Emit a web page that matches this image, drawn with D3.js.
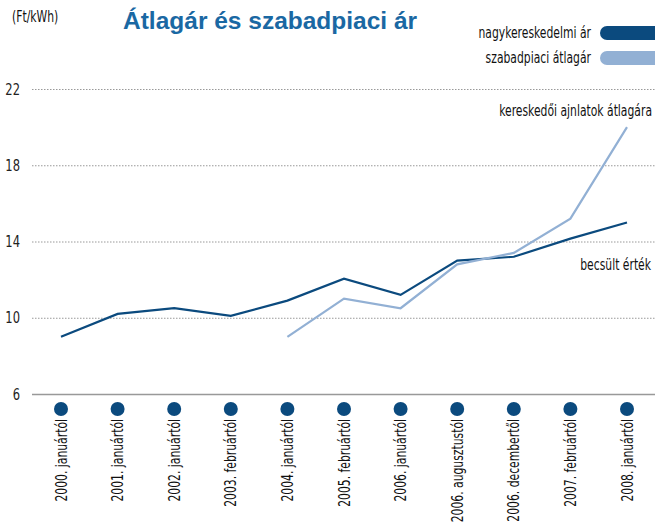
<!DOCTYPE html>
<html><head><meta charset="utf-8">
<script src="https://cdn.jsdelivr.net/npm/d3@7"></script>
<style>
body{margin:0;background:#fff;}
text{font-family:"DejaVu Sans Condensed","Liberation Sans Narrow","Open Sans",sans-serif;}
</style></head>
<body><svg id="c" width="655" height="522"></svg>
<script>
const categories = ["2000. januártól","2001. januártól","2002. januártól","2003. februártól","2004. januártól","2005. februártól","2006. januártól","2006. augusztustól","2006. decembertől","2007. februártól","2008. januártól"];
const wholesale = [9.0,10.2,10.5,10.1,10.9,12.05,11.2,13.0,13.2,14.15,15.0];
const freeMarket = [null,null,null,null,9.0,11.0,10.5,12.8,13.4,15.2,20.0];
const yTicks = [6,10,14,18,22];
const seriesNames = ["nagykereskedelmi ár","szabadpiaci átlagár"];
const colors = ["#0b4a7e","#92b0d4"];
const SX = 0.8; // horizontal compression to mimic condensed face

const svg = d3.select("#c");
const x = d3.scalePoint().domain(categories).range([61,627]);
const y = d3.scaleLinear().domain([6,22]).range([394,89]);

function label(xx, yy, txt, anchor, size){
  return svg.append("text").attr("transform",`translate(${xx},${yy}) scale(${SX},1)`)
    .attr("text-anchor",anchor).attr("font-size",size).attr("fill","#111").text(txt);
}

// grid
const yAxis = d3.axisLeft(y).tickValues(yTicks).tickSize(-623).tickPadding(12);
const g = svg.append("g").attr("transform","translate(32,0)").call(yAxis);
g.select(".domain").remove();
g.selectAll(".tick line").attr("stroke","#999").attr("stroke-dasharray","1.5,1.5").attr("stroke-width",1);
g.selectAll(".tick text").attr("font-size",16).attr("fill","#222").attr("x",-12)
  .attr("transform",`scale(${SX},1)`).attr("dx",-3);
g.selectAll(".tick").filter(d=>d===6).select("line").attr("stroke-dasharray",null).attr("stroke","#999").attr("stroke-width",1.5);

// lines
const line = d3.line().defined(d=>d.v!=null).x(d=>x(d.c)).y(d=>y(d.v));
[wholesale,freeMarket].forEach((s,i)=>{
  svg.append("path").datum(categories.map((c,j)=>({c,v:s[j]})))
    .attr("d",line).attr("fill","none").attr("stroke",colors[i]).attr("stroke-width",2.2);
});

// dots & labels
svg.selectAll("circle.dot").data(categories).join("circle")
  .attr("cx",d=>x(d)).attr("cy",409).attr("r",7).attr("fill","#0b4a7e");
svg.selectAll("text.cat").data(categories).join("text")
  .attr("transform",d=>`translate(${x(d)+5.5},419) rotate(-90) scale(${SX},1)`)
  .attr("text-anchor","end").attr("font-size",15).attr("fill","#111").text(d=>d);

// title
svg.append("text").attr("x",123).attr("y",29)
  .style("font-family","'Liberation Sans',Arial,sans-serif")
  .attr("font-weight","bold").attr("font-size",24.5).attr("fill","#1a68a3").text("Átlagár és szabadpiaci ár");
label(12,22,"(Ft/kWh)","start",15);

// legend
seriesNames.forEach((n,i)=>{
  const yy = 33 + i*25;
  label(591,yy+5,n,"end",15);
  svg.append("rect").attr("x",600).attr("y",yy-7).attr("width",70).attr("height",14).attr("rx",7).attr("fill",colors[i]);
});

// annotations
label(652,116,"kereskedői ajnlatok átlagára","end",15);
label(651,270,"becsült érték","end",15);
</script></body></html>
